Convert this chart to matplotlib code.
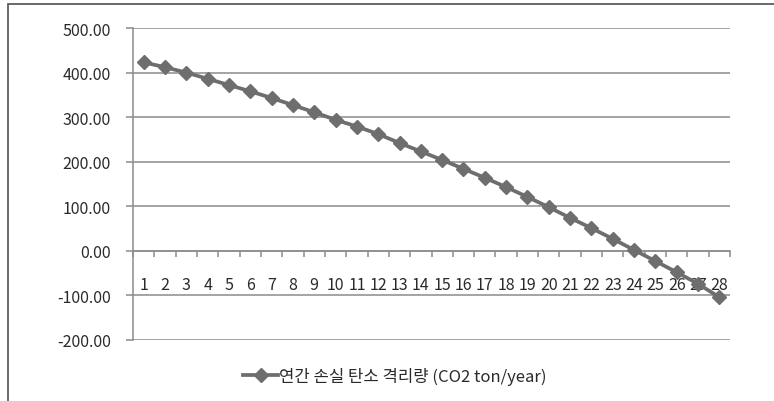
import matplotlib
matplotlib.use("Agg")
import matplotlib.pyplot as plt
from matplotlib.patches import Rectangle
from matplotlib.ticker import FixedLocator, NullFormatter

plt.rcParams['font.family'] = ['Noto Sans CJK KR', 'DejaVu Sans']

years = list(range(1, 29))
sequestration = [423, 412, 400, 386, 372, 358, 343, 327, 311, 294,
                 279, 262, 242, 223, 204, 184, 164, 143, 121, 98,
                 74, 51, 27, 2, -23, -48, -74, -104]
series_label = '연간 손실 탄소 격리량 (CO2 ton/year)'
y_ticks = [-200, -100, 0, 100, 200, 300, 400, 500]

W, H = 774, 402
fig = plt.figure(figsize=(W / 100, H / 100), dpi=100)
ax = fig.add_axes([133 / W, (H - 341) / H, (730 - 133) / W, (341 - 29) / H])

grid_c = '#8c8c8c'
line_c = '#6e6e6e'
text_c = '#2a2a2a'

# outer chart frame (only top and left edges visible in the crop)
fig.add_artist(Rectangle((8 / W, -0.2), 1.5, 1.2 - 5 / H, transform=fig.transFigure,
                         fill=False, edgecolor='#505050', linewidth=1.2))

ax.plot(years, sequestration, color=line_c, linewidth=2.7, marker='D',
        markersize=7.5, markerfacecolor=line_c, markeredgecolor=line_c,
        label=series_label, zorder=3)

ax.set_xlim(0.5, 28.5)
ax.set_ylim(-200, 500)
ax.set_yticks(y_ticks)
ax.set_yticklabels([f'{v:.2f}' for v in y_ticks])
ax.yaxis.grid(True, color=grid_c, linewidth=1.1)
ax.set_axisbelow(True)

for s in ['top', 'right']:
    ax.spines[s].set_visible(False)
ax.spines['left'].set_color(grid_c)
ax.spines['left'].set_linewidth(1.1)
ax.spines['bottom'].set_position(('data', 0))
ax.spines['bottom'].set_color(grid_c)
ax.spines['bottom'].set_linewidth(1.1)

# category boundaries get tick marks, category centres get labels
ax.xaxis.set_major_locator(FixedLocator([i + 0.5 for i in range(0, 29)]))
ax.xaxis.set_major_formatter(NullFormatter())
ax.xaxis.set_minor_locator(FixedLocator(years))
ax.set_xticklabels([str(y) for y in years], minor=True)
ax.tick_params(axis='x', which='major', direction='out', length=4, color=grid_c, width=1.1)
ax.tick_params(axis='x', which='minor', length=0, pad=18, labelsize=11.5, labelcolor=text_c)
ax.tick_params(axis='y', direction='out', length=5, color=grid_c, width=1.1,
               pad=11, labelsize=11.5, labelcolor=text_c)

ax.legend(loc='center', bbox_to_anchor=(395 / W, 1 - 377 / H), bbox_transform=fig.transFigure,
          frameon=False, fontsize=12, handlelength=2.1, handletextpad=0.05,
          labelcolor=text_c)

fig.savefig('out.png', dpi=100, facecolor='white')
